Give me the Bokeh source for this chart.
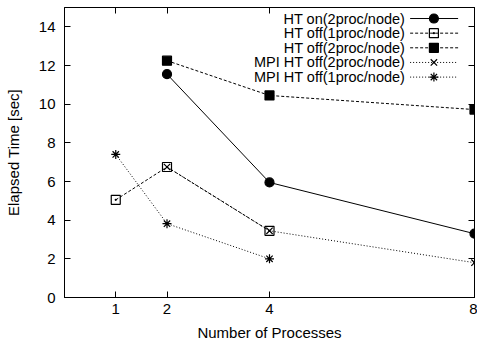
from bokeh.plotting import figure
from bokeh.models import Range1d, LinearAxis, FixedTicker
from bokeh.embed import file_html
from bokeh.resources import INLINE
from bokeh.core.properties import value

# ---- data ----
x_ticks = [1, 2, 4, 8]
y_ticks = [0, 2, 4, 6, 8, 10, 12, 14]

ht_on_2_x = [2, 4, 8]
ht_on_2_y = [11.55, 5.95, 3.3]
ht_off_1_x = [1, 2, 4]
ht_off_1_y = [5.05, 6.75, 3.45]
ht_off_2_x = [2, 4, 8]
ht_off_2_y = [12.25, 10.45, 9.72]
mpi_off_2_x = [2, 4, 8]
mpi_off_2_y = [6.75, 3.45, 1.8]
mpi_off_1_x = [1, 2, 4]
mpi_off_1_y = [7.4, 3.82, 2.0]

labels = ["HT on(2proc/node)", "HT off(1proc/node)", "HT off(2proc/node)",
          "MPI HT off(2proc/node)", "MPI HT off(1proc/node)"]

XMIN, XMAX, YMIN, YMAX = 0, 8, 0, 15
FONT = "Liberation Sans"
FS = "15px"

series = [
    (ht_on_2_x, ht_on_2_y, "solid", "circle", "black"),
    (ht_off_1_x, ht_off_1_y, "3 2", "square_dot", None),
    (ht_off_2_x, ht_off_2_y, "3 2", "square", "black"),
    (mpi_off_2_x, mpi_off_2_y, "1 2", "x", None),
    (mpi_off_1_x, mpi_off_1_y, "1 2", "asterisk", None),
]

p = figure(width=477, height=344, output_backend="svg", toolbar_location=None,
           x_range=Range1d(XMIN, XMAX), y_range=Range1d(YMIN, YMAX),
           min_border_left=64, min_border_right=3, min_border_top=7, min_border_bottom=47)
p.xgrid.visible = False
p.ygrid.visible = False
p.outline_line_color = "black"
p.outline_line_alpha = 1
p.background_fill_color = "white"
p.border_fill_color = "white"

p.xaxis.ticker = FixedTicker(ticks=x_ticks)
p.yaxis.ticker = FixedTicker(ticks=y_ticks)
p.xaxis.axis_label = "Number of Processes"
p.yaxis.axis_label = "Elapsed Time [sec]"
for ax in (p.xaxis[0], p.yaxis[0]):
    ax.major_tick_in = 6
    ax.major_tick_out = 0
    ax.minor_tick_in = 0
    ax.minor_tick_out = 0
    ax.axis_line_color = "black"
    ax.major_tick_line_color = "black"
    ax.major_label_text_font = FONT
    ax.major_label_text_font_size = FS
    ax.major_label_text_color = "black"
    ax.axis_label_text_font = FONT
    ax.axis_label_text_font_size = FS
    ax.axis_label_text_font_style = "normal"
    ax.axis_label_text_color = "black"
p.xaxis.major_label_standoff = 6
p.xaxis.axis_label_standoff = 7
p.yaxis.major_label_standoff = 9
p.yaxis.axis_label_standoff = 14

for loc, tk in (("right", y_ticks), ("above", x_ticks)):
    ax = LinearAxis(ticker=FixedTicker(ticks=tk))
    ax.major_tick_in = 6
    ax.major_tick_out = 0
    ax.minor_tick_in = 0
    ax.minor_tick_out = 0
    ax.major_label_overrides = {t: "" for t in tk}
    ax.major_label_standoff = 0
    ax.axis_line_color = "black"
    p.add_layout(ax, loc)

for (xs, ys, dash, marker, fill) in series:
    p.line(xs, ys, line_color="black", line_width=1, line_dash=dash)
    p.scatter(xs, ys, marker=marker, size=9, line_color="black", fill_color=fill, line_width=1.2)

# ---- legend (text on the left, sample on the right, like gnuplot) ----
xr = XMAX - XMIN
yr = YMAX - YMIN
tx = XMIN + xr * 0.831
lx0 = XMIN + xr * 0.843
lx1 = XMIN + xr * 0.960
mx = XMIN + xr * 0.901
for i, ((xs, ys, dash, marker, fill), lab) in enumerate(zip(series, labels)):
    yy = YMAX - yr * (0.038 + i * 0.0505)
    p.text(x=[tx], y=[yy], text=[lab], text_align="right", text_baseline="middle",
           text_font=value(FONT), text_font_size="14.5px", text_color="black")
    p.line([lx0, lx1], [yy, yy], line_color="black", line_width=1, line_dash=dash)
    p.scatter([mx], [yy], marker=marker, size=9, line_color="black", fill_color=fill, line_width=1.2)

open("out.html", "w").write(file_html(p, INLINE))
